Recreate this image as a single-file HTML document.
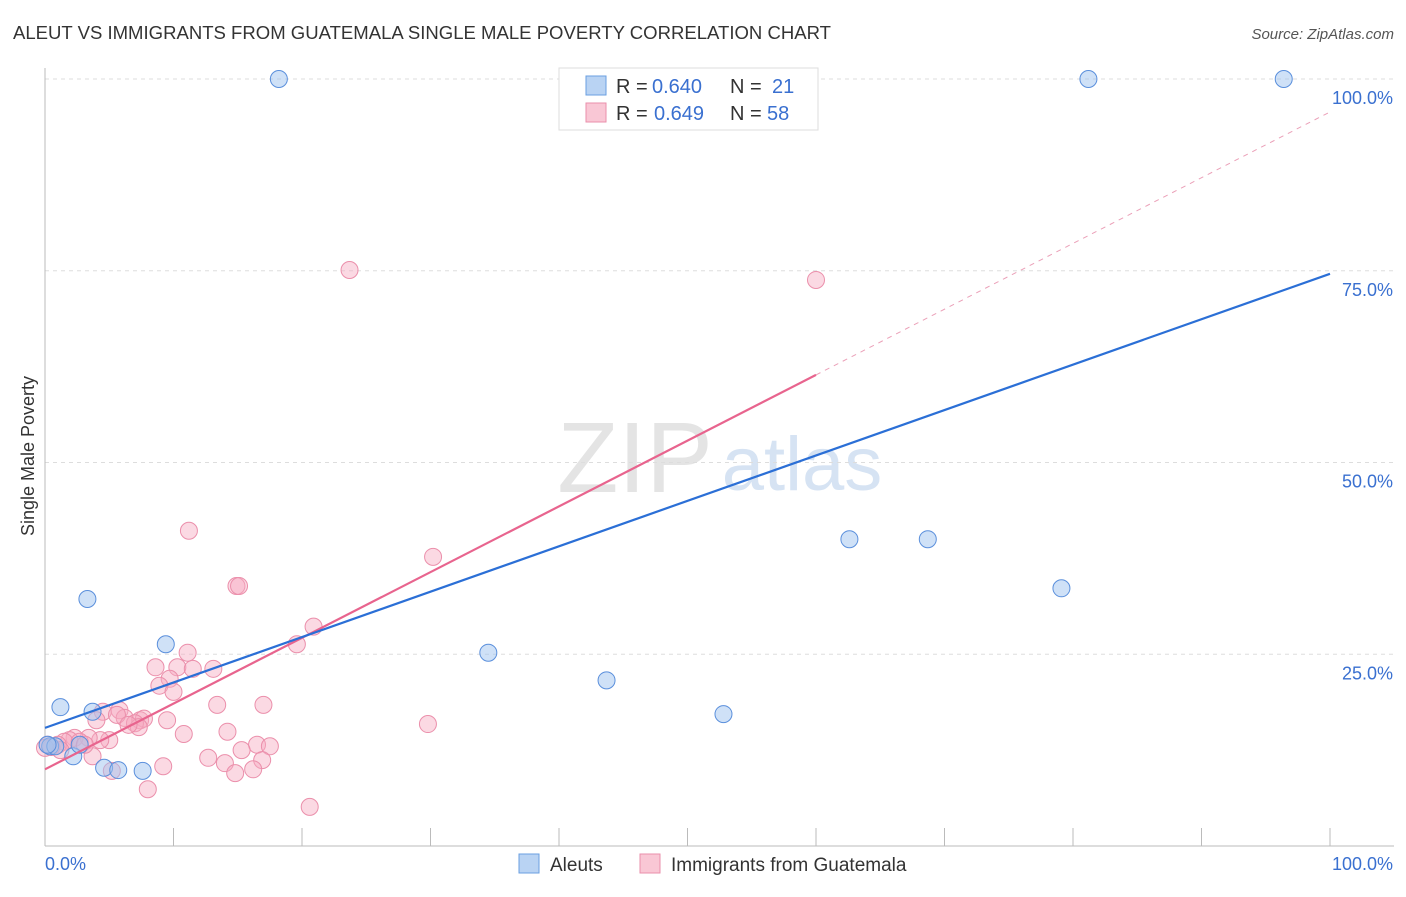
<!DOCTYPE html>
<html><head><meta charset="utf-8"><style>
body{margin:0;background:#fff;font-family:"Liberation Sans",sans-serif;}
svg text{font-family:"Liberation Sans",sans-serif;}
</style></head><body>
<svg width="1406" height="892" xmlns="http://www.w3.org/2000/svg">
<text x="13" y="39" font-size="18" fill="#333" textLength="818" lengthAdjust="spacingAndGlyphs">ALEUT VS IMMIGRANTS FROM GUATEMALA SINGLE MALE POVERTY CORRELATION CHART</text>
<text x="1394" y="39" font-size="15" fill="#555" font-style="italic" text-anchor="end">Source: ZipAtlas.com</text>
<g><text x="635" y="492" font-size="100" fill="#e4e4e4" font-family="Liberation Serif,serif" text-anchor="middle">ZIP</text><text x="802" y="490" font-size="76" fill="#d6e3f3" text-anchor="middle">atlas</text></g>
<g id="grid"></g><g id="axes"></g><g id="marks"></g>
<text transform="translate(34,456) rotate(-90)" font-size="18" fill="#333" text-anchor="middle">Single Male Poverty</text>
<g>
<rect x="559" y="68" width="259" height="62" fill="#fff" stroke="#ddd"/>
<rect x="586" y="76" width="20" height="19" fill="#b9d3f3" stroke="#6a9fe0"/>
<rect x="586" y="103" width="20" height="19" fill="#f9c7d5" stroke="#ea8fab"/>
<text x="616" y="93" font-size="20" fill="#333">R = </text><text x="652" y="93" font-size="20" fill="#3a70d0">0.640</text>
<text x="730" y="93" font-size="20" fill="#333">N = </text><text x="772" y="93" font-size="20" fill="#3a70d0">21</text>
<text x="616" y="120" font-size="20" fill="#333">R = </text><text x="654" y="120" font-size="20" fill="#3a70d0">0.649</text>
<text x="730" y="120" font-size="20" fill="#333">N = </text><text x="767" y="120" font-size="20" fill="#3a70d0">58</text>
</g>
<g>
<rect x="519" y="854" width="20" height="19" fill="#b9d3f3" stroke="#6a9fe0"/>
<text x="550" y="871" font-size="19" fill="#333">Aleuts</text>
<rect x="640" y="854" width="20" height="19" fill="#f9c7d5" stroke="#ea8fab"/>
<text x="671" y="871" font-size="19" fill="#333">Immigrants from Guatemala</text>
</g>
</svg>
<script>
const xTicks=[0,10,20,30,40,50,60,70,80,90,100];
const yTicks=[25,50,75,100];
const yTickLabels=["25.0%","50.0%","75.0%","100.0%"];
const aleutX=[18.2,81.2,96.4,3.3,9.4,34.5,43.7,52.8,62.6,68.7,79.1,1.2,3.7,2.2,4.6,5.7,7.6,0.4,0.8,2.7,0.2];
const aleutY=[100,100,100,32.2,26.3,25.2,21.6,17.2,40.0,40.0,33.6,18.1,17.5,11.7,10.2,9.9,9.8,13.0,13.0,13.2,13.2];
const guatX=[23.7,60.0,11.2,14.9,15.1,30.2,19.6,20.9,11.1,8.6,10.3,11.5,13.1,9.7,8.9,10.0,13.4,17.0,29.8,9.5,14.2,10.8,16.5,17.5,15.3,12.7,14.0,16.9,16.2,14.8,9.2,8.0,20.6,5.2,3.7,4.5,5.8,4.0,6.2,7.4,7.7,7.0,7.3,5.0,4.3,3.4,2.3,1.9,1.5,1.0,0.5,0.2,2.7,3.1,1.2,0.0,5.6,6.5];
const guatY=[75.1,73.8,41.1,33.9,33.9,37.7,26.3,28.6,25.2,23.3,23.3,23.1,23.1,21.8,20.9,20.1,18.4,18.4,15.9,16.4,14.9,14.6,13.2,13.0,12.5,11.5,10.8,11.2,10.0,9.5,10.4,7.4,5.1,9.8,11.7,17.5,17.7,16.4,16.7,16.4,16.6,16.0,15.5,13.8,13.8,14.1,14.1,13.8,13.6,13.2,12.9,13.2,13.6,13.2,12.5,12.8,17.1,15.8];
const aleutTrend=[15.4,74.6];
const guatTrend=[10.0,95.7];
const guatSolidEnd=60;
const NS="http://www.w3.org/2000/svg";
const sx=v=>45+v*12.85, sy=v=>846-v*7.67;
function mk(tag,attrs,parent){const e=document.createElementNS(NS,tag);for(const k in attrs)e.setAttribute(k,attrs[k]);document.getElementById(parent).appendChild(e);return e;}
yTicks.forEach((t,i)=>{
 const g=mk('line',{x1:45,x2:1394,y1:sy(t),y2:sy(t),stroke:'#ddd','stroke-dasharray':'4,4'},'grid');
 
 
 const l=mk('text',{x:1393,y:sy(t)+25,'font-size':18,fill:'#3a70d0','text-anchor':'end'},'axes');
 l.textContent=yTickLabels[i];
 
 
});
const ya=mk('line',{x1:45,x2:45,y1:68,y2:846,stroke:'#bbb'},'axes');


const xa=mk('line',{x1:45,x2:1394,y1:846,y2:846,stroke:'#bbb'},'axes');


xTicks.forEach(t=>{const e=mk('line',{x1:sx(t),x2:sx(t),y1:828,y2:846,stroke:'#bbb'},'axes');
 
 });
let t0=mk('text',{x:45,y:870,'font-size':18,fill:'#3a70d0'},'axes');t0.textContent='0.0%';


let t1=mk('text',{x:1393,y:870,'font-size':18,fill:'#3a70d0','text-anchor':'end'},'axes');t1.textContent='100.0%';


guatX.forEach((x,i)=>{const c=mk('circle',{cx:sx(x),cy:sy(guatY[i]),r:8.5,fill:'rgba(246,170,194,0.45)',stroke:'#eb8fab','stroke-width':1},'marks');
 
 });
aleutX.forEach((x,i)=>{const c=mk('circle',{cx:sx(x),cy:sy(aleutY[i]),r:8.5,fill:'rgba(160,196,240,0.5)',stroke:'#5a8fdc','stroke-width':1},'marks');
 
 });
const gAt=x=>guatTrend[0]+(guatTrend[1]-guatTrend[0])*x/100;
const gd=mk('line',{x1:sx(guatSolidEnd),y1:sy(gAt(guatSolidEnd)),x2:sx(100),y2:sy(guatTrend[1]),stroke:'#eba0b8','stroke-dasharray':'5,5','stroke-width':1},'marks');


const gl=mk('line',{x1:sx(0),y1:sy(guatTrend[0]),x2:sx(guatSolidEnd),y2:sy(gAt(guatSolidEnd)),stroke:'#e8648e','stroke-width':2.2},'marks');


const al=mk('line',{x1:sx(0),y1:sy(aleutTrend[0]),x2:sx(100),y2:sy(aleutTrend[1]),stroke:'#2b6fd6','stroke-width':2.2},'marks');


</script>
</body></html>
